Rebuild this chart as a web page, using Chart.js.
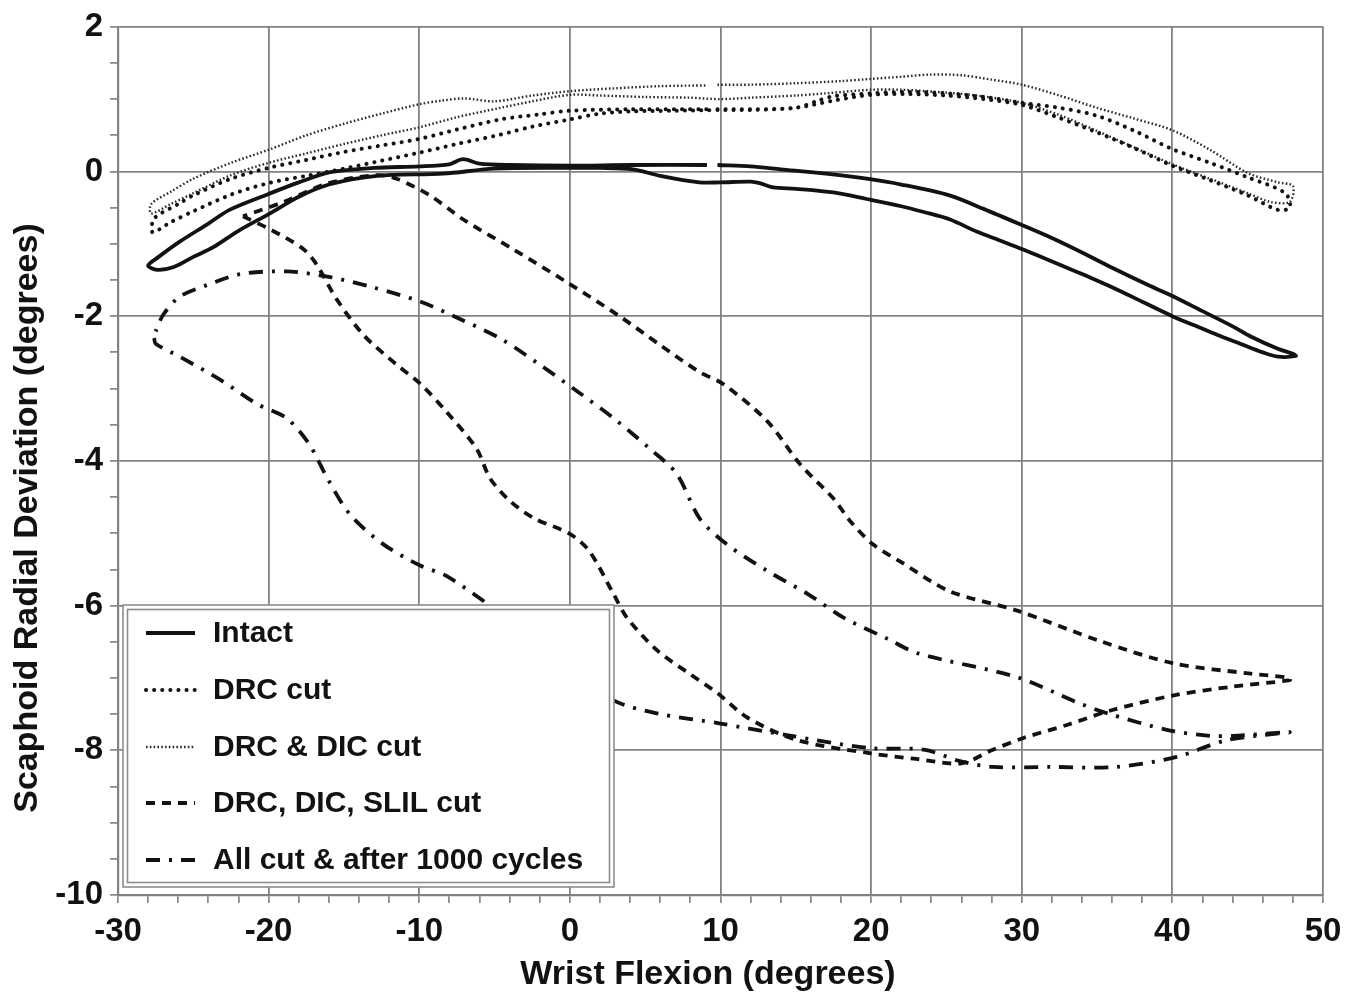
<!DOCTYPE html>
<html>
<head>
<meta charset="utf-8">
<title>Scaphoid radial deviation vs wrist flexion</title>
<script src="https://cdn.jsdelivr.net/npm/chart.js@4.4.1/dist/chart.umd.min.js"></script>
<style>
  html, body { margin: 0; padding: 0; background: #ffffff; }
  #wrap { width: 1363px; height: 998px; }
  canvas { display: block; }
</style>
</head>
<body>
<div id="wrap"><canvas id="chart" width="1363" height="998"></canvas></div>
<script>
// ---- data: [wrist flexion (deg), scaphoid radial deviation (deg)] ----
const intact = [
  [9.8, 0.09], [12, 0.07], [14, 0.03], [17, -0.03], [19.7, -0.1], [22, -0.18], [25.2, -0.33],
  [27.5, -0.52], [30, -0.74], [32, -0.92], [34, -1.12], [36, -1.33], [38.5, -1.58], [40, -1.72],
  [42, -1.93], [44, -2.14], [45.2, -2.28], [47, -2.45], [48, -2.52], [48.2, -2.55],
  [47, -2.56], [46, -2.5], [44.5, -2.38], [43, -2.26], [41.5, -2.13], [40, -2.0], [38, -1.8],
  [36, -1.6], [34.5, -1.46], [33, -1.33], [31.5, -1.2], [30, -1.07], [28.5, -0.95], [27, -0.83],
  [25.2, -0.66], [23.5, -0.56], [22, -0.48], [19.7, -0.38], [17.5, -0.29], [15, -0.24],
  [13.5, -0.22], [12.6, -0.16], [12, -0.14], [10, -0.15], [8.6, -0.15], [6, -0.06], [4.2, 0.03],
  [2, 0.05], [0, 0.05], [-5, 0.04], [-8.4, -0.03], [-12.8, -0.06], [-16, -0.18], [-18, -0.35],
  [-20, -0.59], [-22, -0.82], [-23.7, -1.05], [-25, -1.18], [-26.3, -1.32], [-27.4, -1.36],
  [-28, -1.3], [-27.3, -1.18], [-25.9, -0.97], [-24, -0.72], [-22.6, -0.53], [-20, -0.31],
  [-18, -0.15], [-15.9, -0.01], [-13, 0.05], [-10, 0.07], [-8, 0.1], [-7.1, 0.17], [-6, 0.11],
  [-4, 0.09], [0, 0.08], [4, 0.09], [9.1, 0.09]
];

const drcCut = [
  [9.8, 0.86], [12, 0.86], [15, 0.88], [16.5, 0.98], [17.5, 1.04], [20, 1.08], [22.5, 1.1],
  [25, 1.08], [27.5, 1.03], [30, 0.95], [32.5, 0.88], [35, 0.77], [37.5, 0.56], [40, 0.31],
  [42.5, 0.12], [45, -0.08], [47.5, -0.3], [47.8, -0.5], [47, -0.53], [45, -0.33], [42.5, -0.12],
  [40, 0.08], [37.5, 0.32], [35, 0.54], [32.5, 0.74], [30, 0.92], [27.5, 1.0], [25, 1.05],
  [22.5, 1.07], [20, 1.06], [17.5, 0.98], [15, 0.88], [12, 0.85], [10, 0.85], [7, 0.84],
  [4, 0.83], [2, 0.8], [0, 0.72], [-2.5, 0.62], [-4.6, 0.51], [-7.5, 0.38], [-10, 0.26],
  [-12.5, 0.15], [-15, 0.04], [-17.5, -0.06], [-20, -0.16], [-22.5, -0.32], [-25, -0.55],
  [-26.5, -0.7], [-27.7, -0.84], [-27.6, -0.65], [-26, -0.45], [-25, -0.33], [-22.5, -0.1],
  [-20, 0.05], [-17.5, 0.16], [-15, 0.27], [-12.5, 0.36], [-10, 0.45], [-7.5, 0.58],
  [-4.6, 0.72], [-2, 0.79], [0, 0.84], [4, 0.86], [9.1, 0.86]
];

const drcDicCut = [
  [9.8, 1.2], [12, 1.2], [15, 1.22], [18, 1.25], [20, 1.28], [22, 1.31], [24, 1.34], [26, 1.33],
  [28, 1.27], [30, 1.2], [32.5, 1.05], [35, 0.88], [37.5, 0.73], [40, 0.57], [42.5, 0.3],
  [45, -0.02], [47, -0.15], [48, -0.2], [47.8, -0.42], [46.5, -0.42], [45, -0.3], [42.5, -0.1],
  [40, 0.1], [37.5, 0.33], [35, 0.56], [32.5, 0.78], [30, 0.95], [27, 1.05], [25, 1.09],
  [22, 1.13], [20, 1.13], [17, 1.08], [15, 1.05], [12, 1.02], [10, 1.0], [8, 1.02], [5, 1.03],
  [2, 1.05], [0, 1.06], [-2.5, 0.97], [-4.6, 0.88], [-7.5, 0.75], [-10, 0.61], [-12.5, 0.5],
  [-15, 0.38], [-17.5, 0.25], [-20, 0.12], [-22.5, -0.05], [-25, -0.3], [-26.5, -0.45],
  [-27.8, -0.58], [-27.8, -0.45], [-26.5, -0.28], [-25, -0.1], [-22.5, 0.12], [-20, 0.3],
  [-17.5, 0.5], [-15, 0.66], [-12.5, 0.8], [-10, 0.93], [-8.5, 0.98], [-7, 1.01], [-5, 0.97],
  [-2.5, 1.05], [0, 1.11], [3, 1.15], [6, 1.18], [9.1, 1.19]
];

const slilCut = [
  [-21.7, -0.62], [-19.9, -0.8], [-17.7, -1.07], [-16.8, -1.29], [-15.5, -1.76], [-13.7, -2.26],
  [-11.5, -2.67], [-9.9, -2.94], [-8.2, -3.32], [-6.2, -3.83], [-5.3, -4.24], [-4, -4.55],
  [-2.4, -4.79], [0, -5.01], [1.3, -5.25], [2.9, -5.84], [3.8, -6.17], [5.8, -6.62], [8, -6.95],
  [9.8, -7.21], [11.8, -7.55], [15.1, -7.86], [19.9, -8.04], [23, -8.12], [26, -8.18], [28, -8.0],
  [30.1, -7.83], [33, -7.65], [35.9, -7.45], [40.1, -7.24], [44, -7.12], [47.8, -7.03],
  [47.8, -7.0], [45.2, -6.94], [40.1, -6.8], [35.2, -6.49], [29.7, -6.07], [25.2, -5.8],
  [22, -5.4], [20.1, -5.15], [18.6, -4.83], [17.5, -4.52], [15.3, -4.05], [13.1, -3.45],
  [10.2, -2.94], [8.6, -2.77], [6, -2.4], [3.3, -2.0], [-0.2, -1.53], [-3.8, -1.07],
  [-7.1, -0.66], [-9.3, -0.33], [-11.5, -0.1], [-12.8, -0.05], [-16, -0.16], [-19, -0.42],
  [-21.7, -0.62]
];

const allCutCycled = [
  [-27.6, -2.3], [-27.5, -2.38], [-25.9, -2.56], [-23.2, -2.88], [-20.8, -3.21], [-18.8, -3.41],
  [-17.3, -3.77], [-16.1, -4.24], [-14.6, -4.74], [-12.4, -5.15], [-9.9, -5.45], [-8.2, -5.59],
  [-5.3, -6.0], [-3, -6.35], [0, -6.85], [2.9, -7.31], [5.8, -7.49], [10, -7.63], [14.4, -7.79],
  [19.9, -7.97], [23.5, -7.99], [25.9, -8.15], [28.1, -8.23], [31.9, -8.23], [36.3, -8.23],
  [40.3, -8.09], [43.6, -7.86], [47.8, -7.75], [44, -7.8], [42.5, -7.8], [39.7, -7.72],
  [35.7, -7.49], [33.7, -7.34], [29.7, -6.99], [23.1, -6.66], [21.1, -6.46], [18.2, -6.17],
  [15.8, -5.84], [13.1, -5.52], [10.4, -5.15], [8.6, -4.79], [7.1, -4.18], [5.3, -3.83],
  [2.9, -3.41], [0.5, -3.04], [-2, -2.67], [-4.6, -2.31], [-7.3, -2.04], [-9.9, -1.8],
  [-13.1, -1.6], [-15.9, -1.46], [-18.8, -1.38], [-21.9, -1.42], [-24.1, -1.57], [-25.9, -1.73],
  [-27, -1.98], [-27.5, -2.21]
];

const seriesLabels = ['Intact', 'DRC cut', 'DRC & DIC cut', 'DRC, DIC, SLIL cut', 'All cut & after 1000 cycles'];
const seriesPoints = [intact, drcCut, drcDicCut, slilCut, allCutCycled];

// axis limits and tick spacing
const xRange = [-30, 50];
const yRange = [-10, 2];
const xMinorStep = 2, xMajorStep = 10;
const yMinorStep = 0.5, yMajorStep = 2;

// ---- styling ----
const FONT = '"Liberation Sans", Arial, Helvetica, sans-serif';
const INK = '#121212';
const GRID = '#828282';

const lineStyles = [
  { width: 3.8, dash: [], cap: 'butt', color: INK },
  { width: 4.0, dash: [0.1, 8], cap: 'round', color: INK },
  { width: 2.4, dash: [1.6, 2.2], cap: 'butt', color: '#2a2a2a' },
  { width: 3.8, dash: [9, 7], cap: 'butt', color: INK },
  { width: 3.8, dash: [14, 9, 3, 9], cap: 'butt', color: INK }
];

const datasets = seriesPoints.map((pts, i) => ({
  label: seriesLabels[i],
  data: pts.map(([x, y]) => ({ x, y })),
  showLine: true,
  fill: false,
  pointRadius: 0,
  pointHoverRadius: 0,
  tension: 0.3,
  borderColor: lineStyles[i].color,
  borderWidth: lineStyles[i].width,
  borderDash: lineStyles[i].dash,
  borderCapStyle: lineStyles[i].cap,
  borderJoinStyle: 'round'
}));

const isMultiple = (v, step) => Math.abs(v / step - Math.round(v / step)) < 1e-9;

// framed legend drawn inside the plot area, lower left
const insetLegend = {
  id: 'insetLegend',
  afterDatasetsDraw(chart) {
    const ctx = chart.ctx;
    ctx.save();
    ctx.fillStyle = '#ffffff';
    ctx.fillRect(123, 605, 491, 282);
    ctx.strokeStyle = '#8c8c8c';
    ctx.lineWidth = 1.6;
    ctx.strokeRect(123, 605, 491, 282);
    ctx.strokeRect(127.5, 609.5, 482, 273);
    const rows = [633, 690, 747, 803, 860];
    chart.data.datasets.forEach((ds, i) => {
      const y = rows[i];
      ctx.beginPath();
      ctx.setLineDash(ds.borderDash || []);
      ctx.lineCap = ds.borderCapStyle;
      ctx.lineWidth = ds.borderWidth;
      ctx.strokeStyle = ds.borderColor;
      ctx.moveTo(146, y);
      ctx.lineTo(195, y);
      ctx.stroke();
      ctx.setLineDash([]);
      ctx.fillStyle = INK;
      ctx.font = 'bold 30px ' + FONT;
      ctx.textAlign = 'left';
      ctx.textBaseline = 'middle';
      ctx.fillText(ds.label, 213, y + 1);
    });
    ctx.restore();
  }
};

// axis titles
const axisTitles = {
  id: 'axisTitles',
  afterDraw(chart) {
    const ctx = chart.ctx;
    ctx.save();
    ctx.fillStyle = INK;
    ctx.font = 'bold 34px ' + FONT;
    ctx.textAlign = 'center';
    ctx.textBaseline = 'middle';
    ctx.fillText('Wrist Flexion (degrees)', 708, 975);
    ctx.translate(28, 518);
    ctx.rotate(-Math.PI / 2);
    ctx.fillText('Scaphoid Radial Deviation (degrees)', 0, 0);
    ctx.restore();
  }
};

new Chart(document.getElementById('chart'), {
  type: 'scatter',
  data: { datasets },
  options: {
    responsive: false,
    animation: false,
    devicePixelRatio: 1,
    layout: { padding: { top: 24, right: 40, left: 0, bottom: 0 } },
    plugins: {
      legend: { display: false },
      tooltip: { enabled: false }
    },
    scales: {
      x: {
        type: 'linear',
        min: xRange[0],
        max: xRange[1],
        afterFit(scale) { scale.height = 103; },
        ticks: {
          stepSize: xMinorStep,
          autoSkip: false,
          maxRotation: 0,
          padding: 9,
          color: INK,
          font: { family: FONT, size: 33, weight: 'bold' },
          callback: (v) => isMultiple(v, xMajorStep) ? String(v) : ''
        },
        grid: {
          color: (c) => (c.tick && isMultiple(c.tick.value, xMajorStep)) ? GRID : 'rgba(0,0,0,0)',
          lineWidth: 1.8,
          tickColor: '#767676',
          tickLength: 8,
          tickWidth: 1.5
        },
        border: { display: true, color: GRID, width: 2.2 }
      },
      y: {
        type: 'linear',
        min: yRange[0],
        max: yRange[1],
        afterFit(scale) { scale.width = 118; },
        ticks: {
          stepSize: yMinorStep,
          autoSkip: false,
          padding: 7,
          color: INK,
          font: { family: FONT, size: 33, weight: 'bold' },
          callback: (v) => isMultiple(v, yMajorStep) ? String(v) : ''
        },
        grid: {
          color: (c) => (c.tick && isMultiple(c.tick.value, yMajorStep)) ? GRID : 'rgba(0,0,0,0)',
          lineWidth: 1.8,
          tickColor: '#767676',
          tickLength: 8,
          tickWidth: 1.5
        },
        border: { display: true, color: GRID, width: 2.2 }
      }
    }
  },
  plugins: [insetLegend, axisTitles]
});
</script>
</body>
</html>
